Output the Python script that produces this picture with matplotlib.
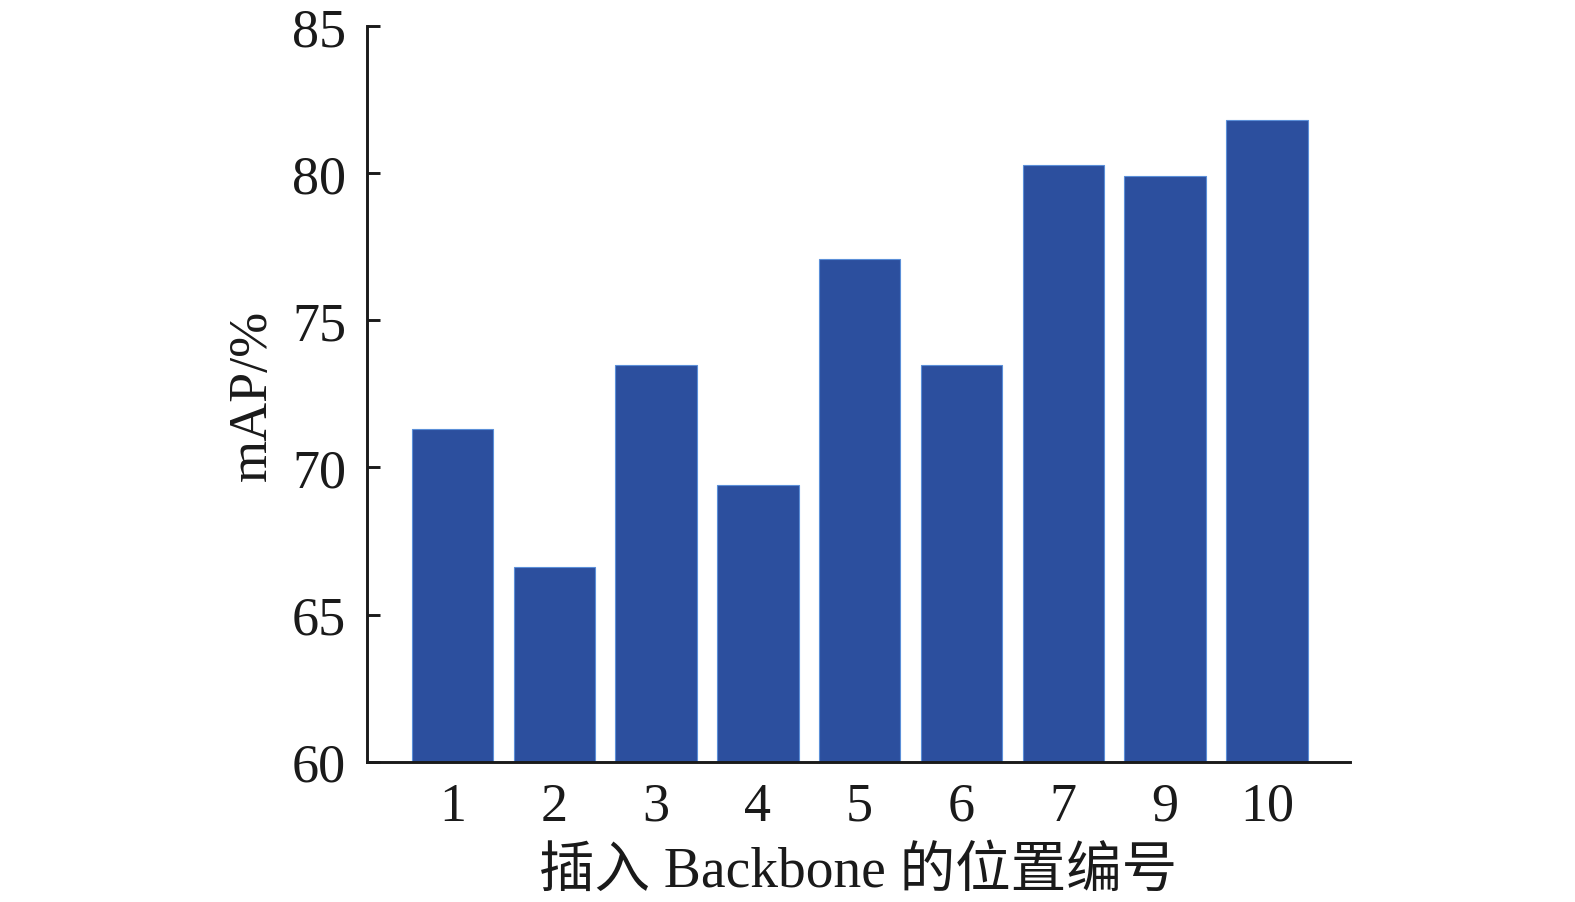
import matplotlib
matplotlib.use("Agg")
import matplotlib.pyplot as plt

categories = ["1", "2", "3", "4", "5", "6", "7", "9", "10"]
values = [71.3, 66.6, 73.5, 69.4, 77.1, 73.5, 80.3, 79.9, 81.8]
yticks = [60, 65, 70, 75, 80, 85]

fam = ["Liberation Serif", "Noto Sans CJK SC"]
plt.rcParams["font.family"] = fam

fig = plt.figure(figsize=(15.75, 9.03), dpi=100)
ax = fig.add_axes([0.233, 0.1555, 0.624, 0.8143])

pos = list(range(len(categories)))
ax.bar(pos, values, width=0.8, color="#2c4f9e", edgecolor="#5b8fd8",
       linewidth=0.8, bottom=0)
ax.set_ylim(60, 85)
ax.set_xlim(-0.84, 8.815)
ax.set_yticks(yticks)
ax.set_xticks(pos)
ax.set_xticklabels(categories)

for s in ["top", "right"]:
    ax.spines[s].set_visible(False)
for s in ["left", "bottom"]:
    ax.spines[s].set_linewidth(2.1)
    ax.spines[s].set_color("#1a1a1a")

ax.tick_params(axis="y", direction="in", length=9.5, width=2.1,
               labelsize=39, pad=15, colors="#1a1a1a")
ax.tick_params(axis="x", length=0, labelsize=39, pad=14, colors="#1a1a1a")

ax.set_ylabel("mAP/%", fontsize=39, labelpad=10, color="#1a1a1a")
ax.set_xlabel("插入 Backbone 的位置编号", fontsize=40, labelpad=10,
              color="#1a1a1a")

fig.savefig("out.png", dpi=100)
